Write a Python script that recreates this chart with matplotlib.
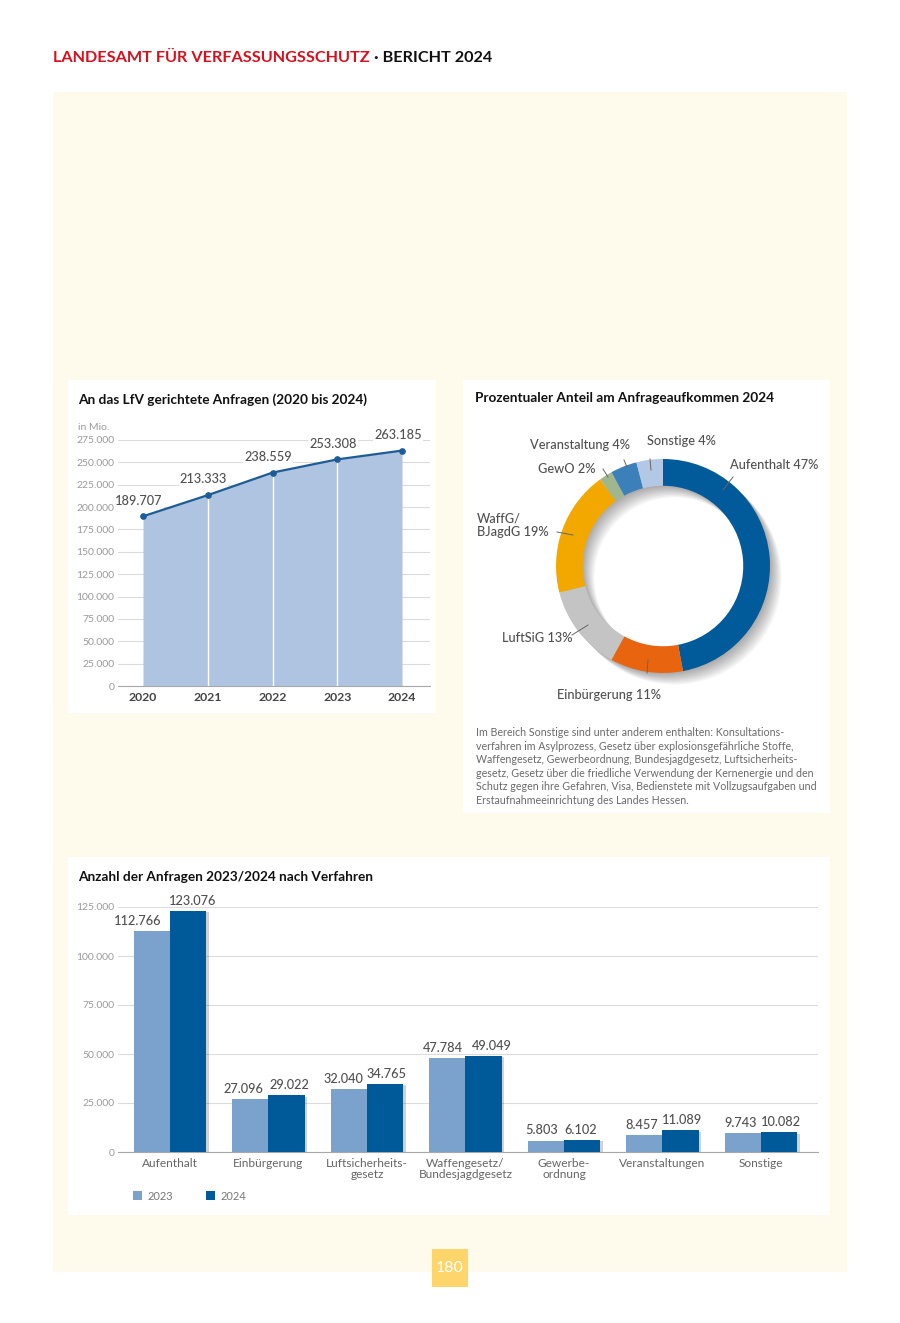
import matplotlib
matplotlib.use('Agg')
import matplotlib.pyplot as plt
import matplotlib.patheffects as pe
from matplotlib.patches import Rectangle, Wedge, Patch

W, H = 900, 1323
plt.rcParams['font.family'] = ['Lato', 'DejaVu Sans']

# ---- data ----
years = [2020, 2021, 2022, 2023, 2024]
anfragen = [189707, 213333, 238559, 253308, 263185]

anteil_labels = ['Aufenthalt 47%', 'Einbürgerung 11%', 'LuftSiG 13%', 'WaffG/\nBJagdG 19%',
                 'GewO 2%', 'Veranstaltung 4%', 'Sonstige 4%']
anteil_pct = [47, 11, 13, 19, 2, 4, 4]
anteil_col = ['#015A99', '#E8640F', '#C4C4C4', '#F3A800', '#9FB68E', '#3C80BA', '#B3C8E4']

verfahren = ['Aufenthalt', 'Einbürgerung', 'Luftsicherheits-\ngesetz', 'Waffengesetz/\nBundesjagdgesetz',
             'Gewerbe-\nordnung', 'Veranstaltungen', 'Sonstige']
v2023 = [112766, 27096, 32040, 47784, 5803, 8457, 9743]
v2024 = [123076, 29022, 34765, 49049, 6102, 11089, 10082]

C_BG = '#FEFAEC'; C_23 = '#7BA2CC'; C_24 = '#005A99'
C_AREA = '#AEC4E1'; C_LINE = '#1D5C96'; C_GRID = '#DCDCDC'
C_TICK = '#9A9A9A'; C_VAL = '#505050'; C_CAT = '#666666'

def de(v): return f"{v:,}".replace(',', '.')
def fx(x): return x / W
def fy(y): return 1 - y / H
def axrect(x0, y0, x1, y1): return [x0 / W, 1 - y1 / H, (x1 - x0) / W, (y1 - y0) / H]

fig = plt.figure(figsize=(W / 100, H / 100), dpi=100)
fig.patch.set_facecolor('white')

def panel(x0, y0, x1, y1, col):
    fig.patches.append(Rectangle((fx(x0), fy(y1)), (x1 - x0) / W, (y1 - y0) / H,
                                 transform=fig.transFigure, facecolor=col, edgecolor='none', zorder=-10))

panel(53, 92, 847, 1272, C_BG)
panel(68, 380, 436, 713, 'white')
panel(463, 380, 830, 813, 'white')
panel(68, 857, 830, 1215, 'white')
panel(432, 1249, 468, 1287, '#FDD56B')
fig.text(fx(450), fy(1268), '180', color='white', fontsize=11.5, ha='center', va='center')

# header
t1 = fig.text(fx(53), fy(58), 'LANDESAMT FÜR VERFASSUNGSSCHUTZ', color='#D8101E',
              fontsize=11.7, fontweight='bold', va='center')
r = fig.canvas.get_renderer()
bb = t1.get_window_extent(r)
fig.text(bb.x1 / W, fy(58), ' · BERICHT 2024', color='#111111', fontsize=11.7,
         fontweight='bold', va='center')

TT = dict(fontsize=9.8, fontweight='bold', va='center', color='#111')

# ================= line chart =================
fig.text(fx(78), fy(400), 'An das LfV gerichtete Anfragen (2020 bis 2024)', **TT)
fig.text(fx(78), fy(427), 'in Mio.', fontsize=7.5, va='center', color=C_TICK)
ax1 = fig.add_axes(axrect(118, 440, 430, 686))
ax1.set_facecolor('none')
ax1.fill_between(years, 0, anfragen, color=C_AREA, lw=0, zorder=2)
for yr, v in zip(years[1:-1], anfragen[1:-1]):
    ax1.plot([yr, yr], [0, v], color='white', lw=1.0, zorder=3)
ax1.plot(years, anfragen, color=C_LINE, lw=1.6, marker='o', ms=3.8, zorder=4)
for yr, v in zip(years, anfragen):
    ax1.annotate(de(v), (yr, v), xytext=(-3, 7), textcoords='offset points', ha='center',
                 va='bottom', fontsize=9.2, fontweight='medium', color=C_VAL,
                 bbox=dict(facecolor='white', edgecolor='none', pad=0.8), zorder=5)
ax1.set_xlim(2019.614, 2024.432)
ax1.set_ylim(0, 275000)
ax1.set_yticks(range(0, 275001, 25000))
ax1.set_yticklabels([de(v) for v in range(0, 275001, 25000)])
ax1.set_xticks(years)
ax1.set_xticklabels([str(y) for y in years], fontweight='bold')
ax1.tick_params(axis='y', length=0, pad=2.5, labelsize=7.5, labelcolor=C_TICK)
ax1.tick_params(axis='x', length=0, pad=4.5, labelsize=8.8, labelcolor='#444')
ax1.grid(axis='y', color=C_GRID, lw=0.8, zorder=0)
ax1.set_axisbelow(True)
for sp in ['top', 'right', 'left']: ax1.spines[sp].set_visible(False)
ax1.spines['bottom'].set_color('#A8A8A8')

# ================= donut =================
fig.text(fx(475), fy(398), 'Prozentualer Anteil am Anfrageaufkommen 2024', **TT)
cx, cy, R = 663, 566, 107
ax2 = fig.add_axes(axrect(463, 420, 830, 712))
ax2.set_facecolor('none')
for k in range(1, 10):
    d = 0.012 * k
    ax2.add_patch(Wedge((d, -d), 1.0, 0, 360, width=0.25, facecolor='#000', alpha=0.04,
                        edgecolor='none', zorder=1))
wedges, _ = ax2.pie(anteil_pct, radius=1.0, startangle=90, counterclock=False, colors=anteil_col,
                    wedgeprops=dict(width=0.25, edgecolor='none'))
for w in wedges: w.set_zorder(3)
ax2.set_aspect('auto')
ax2.set_xlim((463 - cx) / R, (830 - cx) / R)
ax2.set_ylim((cy - 712) / R, (cy - 420) / R)
ax2.axis('off')

def dx(x): return (x - cx) / R
def dy(y): return (cy - y) / R

# label layout (px): text anchor, ha, leader start/end
lab_pos = [(730, 465, 'left', (723, 490), (733, 477)),
           (557, 695, 'left', (648, 660), (647, 673)),
           (502, 638, 'left', (588, 625), (572, 635)),
           (477, 525, 'left', (573, 535), (557, 532)),
           (596, 469, 'right', (608, 477), (603, 469)),
           (630, 445, 'right', (627, 467), (624, 460)),
           (647, 441, 'left', (651, 470), (650, 459))]
for lab, (tx, ty, ha, p0, p1) in zip(anteil_labels, lab_pos):
    ax2.text(dx(tx), dy(ty), lab, ha=ha, va='center', fontsize=9.2, fontweight='medium',
             color=C_VAL, linespacing=1.15, zorder=5)
    ax2.plot([dx(p0[0]), dx(p1[0])], [dy(p0[1]), dy(p1[1])], color='#666', lw=0.7, zorder=4)

caption = ("Im Bereich Sonstige sind unter anderem enthalten: Konsultations-\n"
           "verfahren im Asylprozess, Gesetz über explosionsgefährliche Stoffe,\n"
           "Waffengesetz, Gewerbeordnung, Bundesjagdgesetz, Luftsicherheits-\n"
           "gesetz, Gesetz über die friedliche Verwendung der Kernenergie und den\n"
           "Schutz gegen ihre Gefahren, Visa, Bedienstete mit Vollzugsaufgaben und\n"
           "Erstaufnahmeeinrichtung des Landes Hessen.")
fig.text(fx(476), fy(727), caption, fontsize=7.7, color='#6A6A6A', va='top', ha='left', linespacing=1.29)

# ================= bar chart =================
fig.text(fx(78), fy(877), 'Anzahl der Anfragen 2023/2024 nach Verfahren', **TT)
ax3 = fig.add_axes(axrect(118, 907, 818, 1152))
ax3.set_facecolor('none')
x = list(range(len(verfahren)))
bw = 0.366
b23 = ax3.bar([i - bw / 2 for i in x], v2023, width=bw, color=C_23, zorder=2)
b24 = ax3.bar([i + bw / 2 for i in x], v2024, width=bw, color=C_24, zorder=3)
for p in b24:
    p.set_path_effects([pe.SimplePatchShadow(offset=(2, -1), shadow_rgbFace='#333', alpha=0.22),
                        pe.Normal()])
# label nudges (points) so neighbouring values don't collide
off23 = [-10, -5, -4.3, -3.2, -3, -2.2, -1.8]
off24 = [3.6, 2.2, 1.4, 5.8, -0.7, 1.4, 1.4]
for i in x:
    ax3.annotate(de(v2023[i]), (i - bw / 2, v2023[i]), xytext=(off23[i], 3), textcoords='offset points',
                 ha='center', va='bottom', fontsize=9.2, fontweight='medium', color=C_VAL)
    ax3.annotate(de(v2024[i]), (i + bw / 2, v2024[i]), xytext=(off24[i], 3), textcoords='offset points',
                 ha='center', va='bottom', fontsize=9.2, fontweight='medium', color=C_VAL)
ax3.set_xlim(-0.528, 6.579)
ax3.set_ylim(0, 125000)
ax3.set_yticks(range(0, 125001, 25000))
ax3.set_yticklabels([de(v) for v in range(0, 125001, 25000)])
ax3.set_xticks(x)
ax3.set_xticklabels(verfahren, linespacing=1.0)
ax3.tick_params(axis='y', length=0, pad=2.5, labelsize=7.5, labelcolor=C_TICK)
ax3.tick_params(axis='x', length=0, pad=4, labelsize=8.6, labelcolor=C_CAT)
ax3.grid(axis='y', color=C_GRID, lw=0.8, zorder=0)
ax3.set_axisbelow(True)
for sp in ['top', 'right', 'left']: ax3.spines[sp].set_visible(False)
ax3.spines['bottom'].set_color('#A8A8A8')
ax3.legend(handles=[Patch(facecolor=C_23), Patch(facecolor=C_24)], labels=['2023', '2024'],
           loc='center left', bbox_to_anchor=(fx(123), fy(1196)), bbox_transform=fig.transFigure,
           ncol=2, frameon=False, handlelength=0.8, handleheight=0.8, handletextpad=0.5,
           columnspacing=3.0, fontsize=8, labelcolor='#777')

fig.savefig('out.png', dpi=100)
